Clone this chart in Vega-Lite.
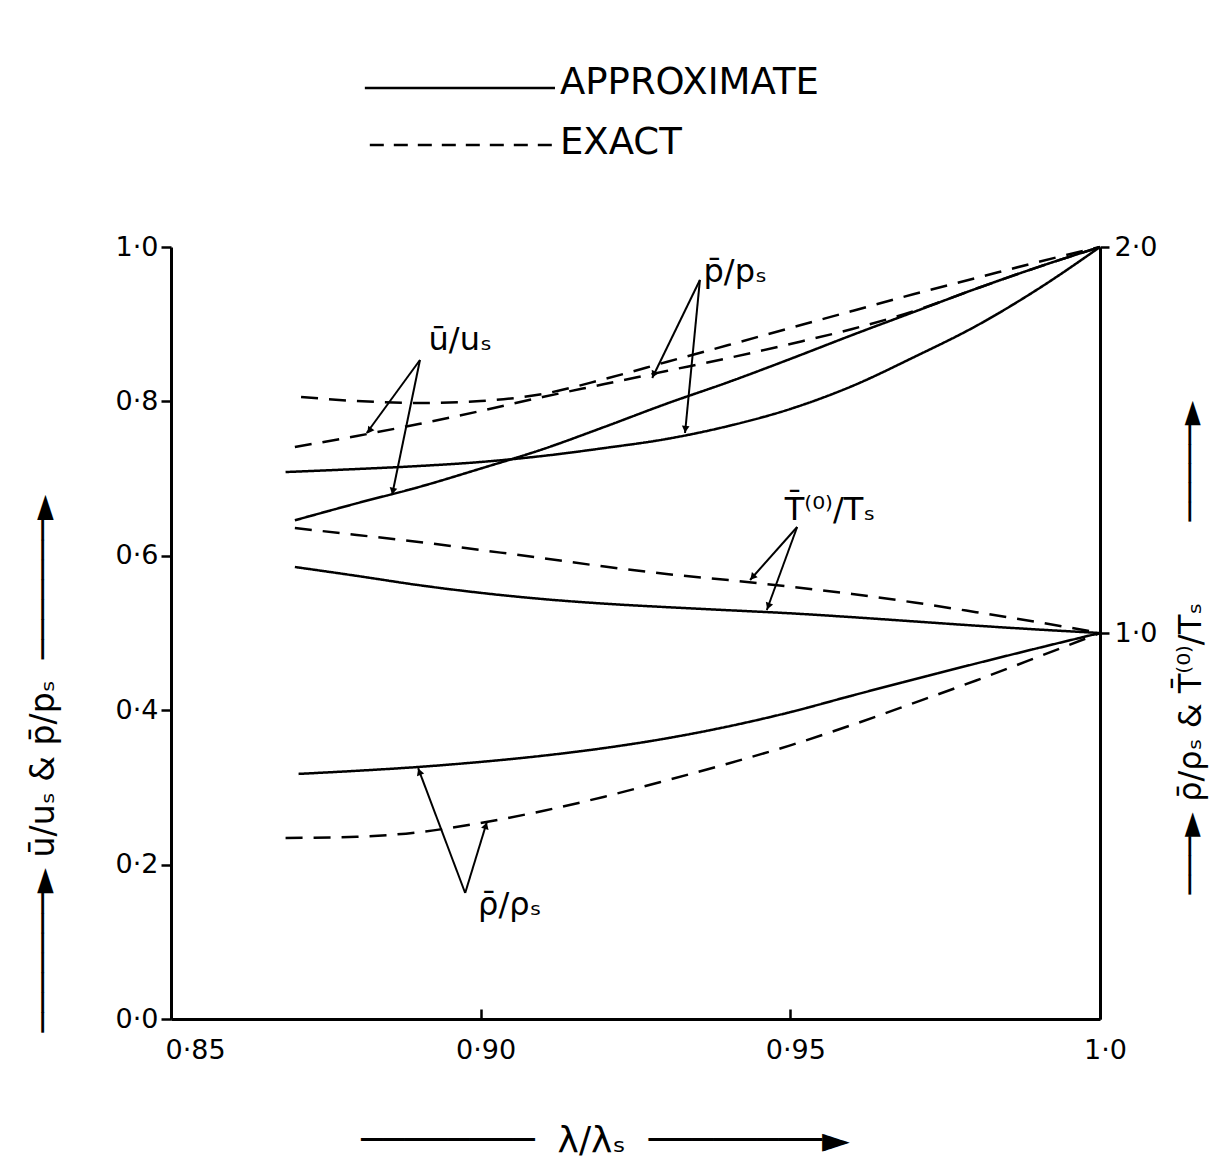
{
  "$schema": "https://vega.github.io/schema/vega-lite/v6.json",
  "width": 929,
  "height": 772,
  "autosize": {"type": "none"},
  "padding": {"left": 171, "top": 247, "right": 123, "bottom": 155},
  "background": "white",
  "config": {
    "font": "DejaVu Sans",
    "view": {"stroke": null},
    "axis": {
      "grid": false,
      "labelColor": "black",
      "titleColor": "black",
      "tickColor": "black",
      "domainColor": "black",
      "labelFont": "DejaVu Sans",
      "titleFont": "DejaVu Sans",
      "titleFontWeight": "normal",
      "domainWidth": 3,
      "tickWidth": 2.5
    },
    "point": {"shape": "triangle", "filled": true, "color": "black", "opacity": 1, "size": 60}
  },
  "datasets": {
    "left": [
      {"lam": 0.870, "val": 0.646, "curve": "u", "type": "approximate"},
      {"lam": 0.880, "val": 0.668, "curve": "u", "type": "approximate"},
      {"lam": 0.890, "val": 0.689, "curve": "u", "type": "approximate"},
      {"lam": 0.900, "val": 0.713, "curve": "u", "type": "approximate"},
      {"lam": 0.910, "val": 0.738, "curve": "u", "type": "approximate"},
      {"lam": 0.920, "val": 0.767, "curve": "u", "type": "approximate"},
      {"lam": 0.930, "val": 0.797, "curve": "u", "type": "approximate"},
      {"lam": 0.940, "val": 0.825, "curve": "u", "type": "approximate"},
      {"lam": 0.950, "val": 0.855, "curve": "u", "type": "approximate"},
      {"lam": 0.960, "val": 0.886, "curve": "u", "type": "approximate"},
      {"lam": 0.970, "val": 0.916, "curve": "u", "type": "approximate"},
      {"lam": 0.980, "val": 0.946, "curve": "u", "type": "approximate"},
      {"lam": 0.990, "val": 0.974, "curve": "u", "type": "approximate"},
      {"lam": 1.000, "val": 1.000, "curve": "u", "type": "approximate"},
      {"lam": 0.8685, "val": 0.7085, "curve": "p", "type": "approximate"},
      {"lam": 0.880, "val": 0.7124, "curve": "p", "type": "approximate"},
      {"lam": 0.890, "val": 0.7163, "curve": "p", "type": "approximate"},
      {"lam": 0.900, "val": 0.7215, "curve": "p", "type": "approximate"},
      {"lam": 0.910, "val": 0.7293, "curve": "p", "type": "approximate"},
      {"lam": 0.920, "val": 0.7396, "curve": "p", "type": "approximate"},
      {"lam": 0.930, "val": 0.7513, "curve": "p", "type": "approximate"},
      {"lam": 0.940, "val": 0.7681, "curve": "p", "type": "approximate"},
      {"lam": 0.950, "val": 0.7902, "curve": "p", "type": "approximate"},
      {"lam": 0.960, "val": 0.8199, "curve": "p", "type": "approximate"},
      {"lam": 0.970, "val": 0.8575, "curve": "p", "type": "approximate"},
      {"lam": 0.980, "val": 0.8977, "curve": "p", "type": "approximate"},
      {"lam": 0.990, "val": 0.9456, "curve": "p", "type": "approximate"},
      {"lam": 1.000, "val": 1.000, "curve": "p", "type": "approximate"},
      {"lam": 0.870, "val": 0.7409, "curve": "u", "type": "exact"},
      {"lam": 0.880, "val": 0.7552, "curve": "u", "type": "exact"},
      {"lam": 0.890, "val": 0.7707, "curve": "u", "type": "exact"},
      {"lam": 0.900, "val": 0.7876, "curve": "u", "type": "exact"},
      {"lam": 0.910, "val": 0.8057, "curve": "u", "type": "exact"},
      {"lam": 0.920, "val": 0.8225, "curve": "u", "type": "exact"},
      {"lam": 0.930, "val": 0.8394, "curve": "u", "type": "exact"},
      {"lam": 0.940, "val": 0.8562, "curve": "u", "type": "exact"},
      {"lam": 0.950, "val": 0.8744, "curve": "u", "type": "exact"},
      {"lam": 0.960, "val": 0.8938, "curve": "u", "type": "exact"},
      {"lam": 0.970, "val": 0.9171, "curve": "u", "type": "exact"},
      {"lam": 0.980, "val": 0.946, "curve": "u", "type": "exact"},
      {"lam": 0.990, "val": 0.974, "curve": "u", "type": "exact"},
      {"lam": 1.000, "val": 1.000, "curve": "u", "type": "exact"},
      {"lam": 0.871, "val": 0.8057, "curve": "p", "type": "exact"},
      {"lam": 0.880, "val": 0.8005, "curve": "p", "type": "exact"},
      {"lam": 0.890, "val": 0.7979, "curve": "p", "type": "exact"},
      {"lam": 0.900, "val": 0.8005, "curve": "p", "type": "exact"},
      {"lam": 0.910, "val": 0.8096, "curve": "p", "type": "exact"},
      {"lam": 0.920, "val": 0.829, "curve": "p", "type": "exact"},
      {"lam": 0.930, "val": 0.851, "curve": "p", "type": "exact"},
      {"lam": 0.940, "val": 0.873, "curve": "p", "type": "exact"},
      {"lam": 0.950, "val": 0.8951, "curve": "p", "type": "exact"},
      {"lam": 0.960, "val": 0.9171, "curve": "p", "type": "exact"},
      {"lam": 0.970, "val": 0.9391, "curve": "p", "type": "exact"},
      {"lam": 0.980, "val": 0.9598, "curve": "p", "type": "exact"},
      {"lam": 0.990, "val": 0.9806, "curve": "p", "type": "exact"},
      {"lam": 1.000, "val": 1.000, "curve": "p", "type": "exact"}
    ],
    "right": [
      {"lam": 0.870, "val": 1.171, "curve": "T", "type": "approximate"},
      {"lam": 0.880, "val": 1.148, "curve": "T", "type": "approximate"},
      {"lam": 0.890, "val": 1.124, "curve": "T", "type": "approximate"},
      {"lam": 0.900, "val": 1.104, "curve": "T", "type": "approximate"},
      {"lam": 0.910, "val": 1.088, "curve": "T", "type": "approximate"},
      {"lam": 0.920, "val": 1.076, "curve": "T", "type": "approximate"},
      {"lam": 0.930, "val": 1.067, "curve": "T", "type": "approximate"},
      {"lam": 0.940, "val": 1.059, "curve": "T", "type": "approximate"},
      {"lam": 0.950, "val": 1.051, "curve": "T", "type": "approximate"},
      {"lam": 0.960, "val": 1.041, "curve": "T", "type": "approximate"},
      {"lam": 0.970, "val": 1.030, "curve": "T", "type": "approximate"},
      {"lam": 0.980, "val": 1.019, "curve": "T", "type": "approximate"},
      {"lam": 0.990, "val": 1.009, "curve": "T", "type": "approximate"},
      {"lam": 1.000, "val": 1.000, "curve": "T", "type": "approximate"},
      {"lam": 0.870, "val": 1.272, "curve": "T", "type": "exact"},
      {"lam": 0.880, "val": 1.254, "curve": "T", "type": "exact"},
      {"lam": 0.890, "val": 1.236, "curve": "T", "type": "exact"},
      {"lam": 0.900, "val": 1.215, "curve": "T", "type": "exact"},
      {"lam": 0.910, "val": 1.194, "curve": "T", "type": "exact"},
      {"lam": 0.920, "val": 1.172, "curve": "T", "type": "exact"},
      {"lam": 0.930, "val": 1.153, "curve": "T", "type": "exact"},
      {"lam": 0.940, "val": 1.137, "curve": "T", "type": "exact"},
      {"lam": 0.950, "val": 1.120, "curve": "T", "type": "exact"},
      {"lam": 0.960, "val": 1.101, "curve": "T", "type": "exact"},
      {"lam": 0.970, "val": 1.079, "curve": "T", "type": "exact"},
      {"lam": 0.980, "val": 1.054, "curve": "T", "type": "exact"},
      {"lam": 0.990, "val": 1.028, "curve": "T", "type": "exact"},
      {"lam": 1.000, "val": 1.000, "curve": "T", "type": "exact"},
      {"lam": 0.8706, "val": 0.635, "curve": "rho", "type": "approximate"},
      {"lam": 0.880, "val": 0.643, "curve": "rho", "type": "approximate"},
      {"lam": 0.890, "val": 0.653, "curve": "rho", "type": "approximate"},
      {"lam": 0.900, "val": 0.666, "curve": "rho", "type": "approximate"},
      {"lam": 0.910, "val": 0.682, "curve": "rho", "type": "approximate"},
      {"lam": 0.920, "val": 0.702, "curve": "rho", "type": "approximate"},
      {"lam": 0.930, "val": 0.727, "curve": "rho", "type": "approximate"},
      {"lam": 0.940, "val": 0.758, "curve": "rho", "type": "approximate"},
      {"lam": 0.950, "val": 0.795, "curve": "rho", "type": "approximate"},
      {"lam": 0.960, "val": 0.838, "curve": "rho", "type": "approximate"},
      {"lam": 0.970, "val": 0.880, "curve": "rho", "type": "approximate"},
      {"lam": 0.980, "val": 0.921, "curve": "rho", "type": "approximate"},
      {"lam": 0.990, "val": 0.961, "curve": "rho", "type": "approximate"},
      {"lam": 1.000, "val": 1.000, "curve": "rho", "type": "approximate"},
      {"lam": 0.8685, "val": 0.469, "curve": "rho", "type": "exact"},
      {"lam": 0.880, "val": 0.472, "curve": "rho", "type": "exact"},
      {"lam": 0.890, "val": 0.484, "curve": "rho", "type": "exact"},
      {"lam": 0.900, "val": 0.508, "curve": "rho", "type": "exact"},
      {"lam": 0.910, "val": 0.539, "curve": "rho", "type": "exact"},
      {"lam": 0.920, "val": 0.576, "curve": "rho", "type": "exact"},
      {"lam": 0.930, "val": 0.618, "curve": "rho", "type": "exact"},
      {"lam": 0.940, "val": 0.662, "curve": "rho", "type": "exact"},
      {"lam": 0.950, "val": 0.709, "curve": "rho", "type": "exact"},
      {"lam": 0.960, "val": 0.762, "curve": "rho", "type": "exact"},
      {"lam": 0.970, "val": 0.819, "curve": "rho", "type": "exact"},
      {"lam": 0.980, "val": 0.877, "curve": "rho", "type": "exact"},
      {"lam": 0.990, "val": 0.938, "curve": "rho", "type": "exact"},
      {"lam": 1.000, "val": 1.000, "curve": "rho", "type": "exact"}
    ],
    "legs": [
      {"lam": 0.8902, "val": 0.8536, "lam2": 0.8816, "val2": 0.7591},
      {"lam": 0.8902, "val": 0.8536, "lam2": 0.8857, "val2": 0.6788},
      {"lam": 0.9354, "val": 0.9573, "lam2": 0.9277, "val2": 0.8303},
      {"lam": 0.9354, "val": 0.9573, "lam2": 0.9330, "val2": 0.7591},
      {"lam": 0.9511, "val": 0.6373, "lam2": 0.9435, "val2": 0.5687},
      {"lam": 0.9511, "val": 0.6373, "lam2": 0.9462, "val2": 0.5298},
      {"lam": 0.8975, "val": 0.1632, "lam2": 0.8899, "val2": 0.3251},
      {"lam": 0.8975, "val": 0.1632, "lam2": 0.9010, "val2": 0.2552}
    ],
    "labels": [
      {"lam": 0.8967, "val": 0.8795, "text": "ū/uₛ"},
      {"lam": 0.9411, "val": 0.9676, "text": "p̄/pₛ"},
      {"lam": 0.9564, "val": 0.6593, "text": "T̄⁽⁰⁾/Tₛ"},
      {"lam": 0.9047, "val": 0.1477, "text": "ρ̄/ρₛ"}
    ]
  },
  "layer": [
    {
      "layer": [
        {
          "data": {"name": "left"},
          "mark": {"type": "line", "color": "black", "strokeWidth": 2.5, "interpolate": "monotone"},
          "encoding": {
            "x": {
              "field": "lam", "type": "quantitative",
              "scale": {"domain": [0.85, 1.0], "nice": false, "zero": false},
              "axis": {
                "values": [0.85, 0.9, 0.95, 1.0],
                "labelExpr": "datum.value >= 0.999 ? '1·0' : replace(format(datum.value, '.2f'), '.', '·')",
                "labelFontSize": 27,
                "labelFlush": false,
                "labelAlign": {"condition": {"test": "datum.value < 0.86", "value": "left"}, "value": "center"},
                "labelOffset": {"condition": {"test": "datum.value < 0.86", "value": -6}, "value": 5},
                "tickSize": -10,
                "labelPadding": 28,
                "title": "────────\u00a0\u00a0λ/λₛ\u00a0\u00a0────────►",
                "titleFontSize": 36,
                "titleX": 434,
                "titleY": 121,
                "titleBaseline": "middle",
                "titleAlign": "center"
              }
            },
            "y": {
              "field": "val", "type": "quantitative",
              "scale": {"domain": [0, 1], "nice": false, "zero": false},
              "axis": {
                "values": [0, 0.2, 0.4, 0.6, 0.8, 1.0],
                "labelExpr": "replace(format(datum.value, '.1f'), '.', '·')",
                "labelFontSize": 27,
                "tickSize": 10,
                "labelPadding": 3,
                "title": "───────►\u00a0ū/uₛ & p̄/pₛ\u00a0\u00a0───────►",
                "titleFontSize": 33,
                "titleAngle": -90,
                "titleX": -128,
                "titleY": 516,
                "titleBaseline": "middle",
                "titleAlign": "center"
              }
            },
            "detail": {"field": "curve"},
            "strokeDash": {
              "field": "type", "type": "nominal",
              "scale": {"domain": ["approximate", "exact"], "range": [[1, 0], [17, 11]]},
              "legend": null
            }
          }
        },
        {
          "data": {"name": "legs"},
          "mark": {"type": "rule", "color": "black", "strokeWidth": 2},
          "encoding": {
            "x": {"field": "lam", "type": "quantitative"},
            "y": {"field": "val", "type": "quantitative"},
            "x2": {"field": "lam2"},
            "y2": {"field": "val2"}
          }
        },
        {"data": {"values": [{}]}, "mark": {"type": "point", "angle": 216}, "encoding": {"x": {"datum": 0.88213, "type": "quantitative"}, "y": {"datum": 0.7631, "type": "quantitative"}}},
        {"data": {"values": [{}]}, "mark": {"type": "point", "angle": 192}, "encoding": {"x": {"datum": 0.88585, "type": "quantitative"}, "y": {"datum": 0.6852, "type": "quantitative"}}},
        {"data": {"values": [{}]}, "mark": {"type": "point", "angle": 206}, "encoding": {"x": {"datum": 0.92802, "type": "quantitative"}, "y": {"datum": 0.8361, "type": "quantitative"}}},
        {"data": {"values": [{}]}, "mark": {"type": "point", "angle": 186}, "encoding": {"x": {"datum": 0.93307, "type": "quantitative"}, "y": {"datum": 0.7655, "type": "quantitative"}}},
        {"data": {"values": [{}]}, "mark": {"type": "point", "angle": 222}, "encoding": {"x": {"datum": 0.94402, "type": "quantitative"}, "y": {"datum": 0.5734, "type": "quantitative"}}},
        {"data": {"values": [{}]}, "mark": {"type": "point", "angle": 200}, "encoding": {"x": {"datum": 0.94651, "type": "quantitative"}, "y": {"datum": 0.5359, "type": "quantitative"}}},
        {"data": {"values": [{}]}, "mark": {"type": "point", "angle": 339}, "encoding": {"x": {"datum": 0.89017, "type": "quantitative"}, "y": {"datum": 0.3190, "type": "quantitative"}}},
        {"data": {"values": [{}]}, "mark": {"type": "point", "angle": 17}, "encoding": {"x": {"datum": 0.90078, "type": "quantitative"}, "y": {"datum": 0.2490, "type": "quantitative"}}},
        {
          "data": {"name": "labels"},
          "mark": {"type": "text", "color": "black", "fontSize": 32, "align": "center", "baseline": "middle"},
          "encoding": {
            "x": {"field": "lam", "type": "quantitative"},
            "y": {"field": "val", "type": "quantitative"},
            "text": {"field": "text"}
          }
        },
        {
          "data": {"values": [{}]},
          "mark": {"type": "rule", "color": "black", "strokeWidth": 2.5},
          "encoding": {
            "x": {"datum": 0.8813, "type": "quantitative"},
            "x2": {"datum": 0.9120},
            "y": {"datum": 1.206, "type": "quantitative"}
          }
        },
        {
          "data": {"values": [{}]},
          "mark": {"type": "rule", "color": "black", "strokeWidth": 2.5, "strokeDash": [14, 10]},
          "encoding": {
            "x": {"datum": 0.8821, "type": "quantitative"},
            "x2": {"datum": 0.9120},
            "y": {"datum": 1.1321, "type": "quantitative"}
          }
        },
        {
          "data": {"values": [{}]},
          "mark": {"type": "text", "color": "black", "fontSize": 37, "align": "left", "baseline": "middle", "text": "APPROXIMATE"},
          "encoding": {
            "x": {"datum": 0.9128, "type": "quantitative"},
            "y": {"datum": 1.2124, "type": "quantitative"}
          }
        },
        {
          "data": {"values": [{}]},
          "mark": {"type": "text", "color": "black", "fontSize": 37, "align": "left", "baseline": "middle", "text": "EXACT"},
          "encoding": {
            "x": {"datum": 0.9128, "type": "quantitative"},
            "y": {"datum": 1.1347, "type": "quantitative"}
          }
        }
      ]
    },
    {
      "data": {"name": "right"},
      "mark": {"type": "line", "color": "black", "strokeWidth": 2.5, "interpolate": "monotone"},
      "encoding": {
        "x": {"field": "lam", "type": "quantitative"},
        "y": {
          "field": "val", "type": "quantitative",
          "scale": {"domain": [0, 2], "nice": false, "zero": false},
          "axis": {
            "orient": "right",
            "values": [1, 2],
            "labelExpr": "replace(format(datum.value, '.1f'), '.', '·')",
            "labelFontSize": 27,
            "tickSize": 9,
            "labelPadding": 5,
            "title": "───►\u00a0ρ̄/ρₛ & T̄⁽⁰⁾/Tₛ\u00a0\u00a0\u00a0\u00a0\u00a0\u00a0\u00a0\u00a0─────►",
            "titleFontSize": 32,
            "titleAngle": -90,
            "titleX": 90,
            "titleY": 400,
            "titleBaseline": "middle",
            "titleAlign": "center"
          }
        },
        "detail": {"field": "curve"},
        "strokeDash": {"field": "type", "type": "nominal", "legend": null}
      }
    }
  ],
  "resolve": {"scale": {"y": "independent"}}
}
